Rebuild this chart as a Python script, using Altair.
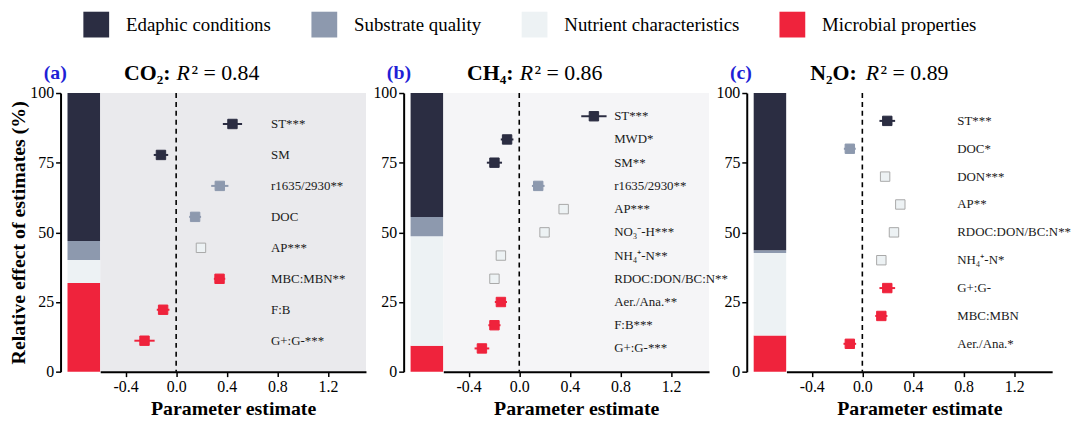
import altair as alt
import pandas as pd

SERIF = "Liberation Serif"

group_codes = ["E", "S", "N", "M"]
group_names = ["Edaphic conditions", "Substrate quality", "Nutrient characteristics", "Microbial properties"]
group_fill = ["#2b2d42", "#8d99ae", "#edf2f4", "#ef233c"]
group_stroke = ["#2b2d42", "#8d99ae", "#a8a8a8", "#ef233c"]

x_ticks = [-0.4, 0.0, 0.4, 0.8, 1.2]
y_ticks = [0, 25, 50, 75, 100]

# ---- panel (a) CO2
a_tag = "(a)"
a_gas = "CO₂:"
a_r2 = "² = 0.84"
a_labels = ["ST***", "SM", "r1635/2930**", "DOC", "AP***", "MBC:MBN**", "F:B", "G+:G-***"]
a_codes = ["E", "E", "S", "S", "N", "M", "M", "M"]
a_est = [0.445, -0.12, 0.345, 0.15, 0.196, 0.343, -0.103, -0.25]
a_se = [0.076, 0.057, 0.068, 0.047, 0.02, 0.045, 0.05, 0.08]
a_share = [53.1, 6.8, 8.3, 31.8]  # E, S, N, M

# ---- panel (b) CH4
b_tag = "(b)"
b_gas = "CH₄:"
b_r2 = "² = 0.86"
b_labels = ["ST***", "MWD*", "SM**", "r1635/2930**", "AP***", "NO₃⁻-H***", "NH₄⁺-N**",
            "RDOC:DON/BC:N**", "Aer./Ana.**", "F:B***", "G+:G-***"]
b_codes = ["E", "E", "E", "S", "N", "N", "N", "N", "M", "M", "M"]
b_est = [0.59, -0.096, -0.196, 0.15, 0.351, 0.20, -0.145, -0.196, -0.145, -0.196, -0.295]
b_se = [0.10, 0.05, 0.06, 0.05, 0.02, 0.02, 0.02, 0.02, 0.048, 0.048, 0.058]
b_share = [44.5, 6.9, 39.3, 9.3]

# ---- panel (c) N2O
c_tag = "(c)"
c_gas = "N₂O:"
c_r2 = "² = 0.89"
c_labels = ["ST***", "DOC*", "DON***", "AP**", "RDOC:DON/BC:N**", "NH₄⁺-N*", "G+:G-", "MBC:MBN", "Aer./Ana.*"]
c_codes = ["E", "S", "N", "N", "N", "N", "M", "M", "M"]
c_est = [0.197, -0.099, 0.18, 0.30, 0.25, 0.15, 0.197, 0.15, -0.099]
c_se = [0.062, 0.047, 0.02, 0.02, 0.02, 0.02, 0.062, 0.048, 0.05]
c_share = [56.4, 1.0, 29.6, 13.0]

code2name = dict(zip(group_codes, group_names))
fill_scale = alt.Scale(domain=group_names, range=group_fill)
stroke_scale = alt.Scale(domain=group_names, range=group_stroke)

GAP = 38  # free room left of panels (b) and (c) for their y axes


def panel(tag, gas, r2, labels, codes, est, se, shares, bg, first, r_x):
    share_by = dict(zip(group_codes, shares))
    rows = []
    top = 0.0
    for c in ["M", "N", "S", "E"]:
        rows.append({"group": code2name[c], "y0": top, "y1": top + share_by[c]})
        top += share_by[c]
    bar_df = pd.DataFrame(rows)

    lead = 0 if first else GAP
    if first:
        legend = alt.Legend(orient="none", legendX=23, legendY=-82, direction="horizontal",
                            title=None, symbolType="square", symbolSize=676, symbolStrokeWidth=0,
                            symbolOpacity=1, labelFont=SERIF, labelFontSize=19, labelColor="black",
                            labelOffset=17, columnPadding=40, padding=0, labelLimit=400)
        yaxis = alt.Axis(values=y_ticks, title="Relative effect of estimates (%)", titlePadding=1)
    else:
        legend = None
        yaxis = alt.Axis(values=y_ticks, title=None, offset=-lead)

    bars = alt.Chart(bar_df).mark_bar().encode(
        x=alt.value(lead + 7), x2=alt.value(lead + 40),
        y=alt.Y("y0:Q", scale=alt.Scale(domain=[0, 100], nice=False), axis=yaxis),
        y2="y1:Q",
        color=alt.Color("group:N", scale=fill_scale, legend=legend, sort=group_names),
    )
    tag_t = alt.Chart(pd.DataFrame({"t": [tag]})).mark_text(
        align="left", baseline="middle", font=SERIF, fontSize=20, fontWeight="bold", color="#1f1fd6"
    ).encode(x=alt.value(lead - 17), y=alt.value(-20), text="t:N")
    left = alt.layer(bars, tag_t).properties(width=lead + 40, height=281)

    df = pd.DataFrame({"label": labels, "group": [code2name[c] for c in codes], "est": est, "se": se})
    xs = alt.Scale(domain=[-0.6, 1.5], nice=False, zero=False)
    xaxis = alt.Axis(values=x_ticks, title="Parameter estimate",
                     labelExpr="replace(format(datum.value, '.1f'), '−', '-')")
    y = alt.Y("label:N", sort=labels, scale=alt.Scale(type="point", padding=1), axis=None)
    base = alt.Chart(df)

    zero = alt.Chart(pd.DataFrame({"x": [0.0]})).mark_rule(
        color="black", strokeDash=[5, 4], strokeWidth=1.6
    ).encode(x=alt.X("x:Q", scale=xs, axis=xaxis))
    err = base.transform_calculate(lo="datum.est - datum.se", hi="datum.est + datum.se").mark_rule(
        strokeWidth=2
    ).encode(
        x=alt.X("lo:Q", scale=xs, axis=xaxis), x2="hi:Q", y=y,
        stroke=alt.Stroke("group:N", scale=stroke_scale, legend=None),
    )
    pts = base.mark_square(size=90, strokeWidth=1, opacity=1).encode(
        x=alt.X("est:Q", scale=xs, axis=xaxis), y=y,
        fill=alt.Fill("group:N", scale=fill_scale, legend=None),
        stroke=alt.Stroke("group:N", scale=stroke_scale, legend=None),
    )
    txt = base.mark_text(align="left", baseline="middle", font=SERIF, fontSize=13, color="#1a1a1a").encode(
        x=alt.datum(0.75), y=y, text="label:N"
    )
    t_df = pd.DataFrame({"gas": [gas], "r": ["R"], "r2": [r2]})
    t1 = alt.Chart(t_df).mark_text(align="left", baseline="middle", font=SERIF, fontSize=22,
                                   fontWeight="bold", color="black").encode(
        x=alt.value(24), y=alt.value(-20), text="gas:N")
    t2 = alt.Chart(t_df).mark_text(align="left", baseline="middle", font=SERIF, fontSize=22,
                                   fontStyle="italic", color="black").encode(
        x=alt.value(r_x), y=alt.value(-20), text="r:N")
    t3 = alt.Chart(t_df).mark_text(align="left", baseline="middle", font=SERIF, fontSize=22,
                                   color="black").encode(
        x=alt.value(r_x + 15), y=alt.value(-20), text="r2:N")

    right = alt.layer(zero, err, pts, txt, t1, t2, t3).properties(
        width=268, height=281, view=alt.ViewBackground(fill=bg, strokeWidth=0)
    )
    return [left, right]


cells = (
    panel(a_tag, a_gas, a_r2, a_labels, a_codes, a_est, a_se, a_share, "#eaeaed", True, 77)
    + panel(b_tag, b_gas, b_r2, b_labels, b_codes, b_est, b_se, b_share, "#f5f5f7", False, 77)
    + panel(c_tag, c_gas, c_r2, c_labels, c_codes, c_est, c_se, c_share, "#ffffff", False, 80)
)

chart = alt.hconcat(*cells, spacing=0, bounds="flush").configure(
    padding={"left": 0, "top": 2, "right": 0, "bottom": 0}, font=SERIF
).configure_axis(
    grid=False, domainColor="black", domainWidth=2, tickColor="black", tickWidth=1.5, tickSize=5,
    labelFont=SERIF, labelFontSize=16, labelColor="black", titleFont=SERIF, titleFontSize=20,
    titleFontWeight="bold", titleColor="black"
).configure_view(strokeWidth=0)

chart.save("out.html", embed_options={"renderer": "svg", "actions": False})
